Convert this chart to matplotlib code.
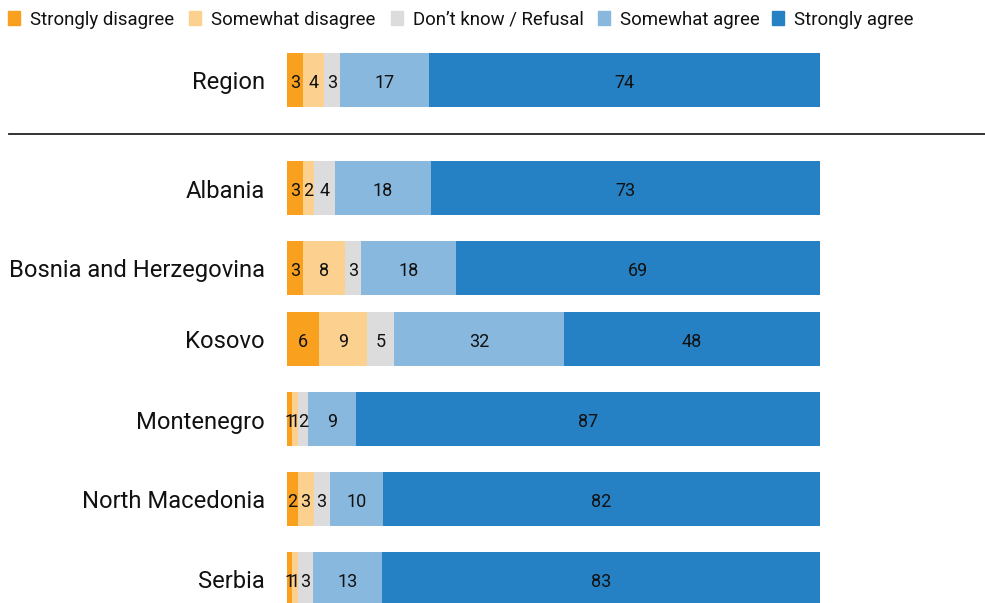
import matplotlib
matplotlib.use("Agg")
import matplotlib.pyplot as plt
from matplotlib.patches import Rectangle
from matplotlib.lines import Line2D
import numpy as np

plt.rcParams['font.family'] = ['Roboto', 'DejaVu Sans']

categories = ["Region", "Albania", "Bosnia and Herzegovina", "Kosovo",
              "Montenegro", "North Macedonia", "Serbia"]
series_names = ["Strongly disagree", "Somewhat disagree", "Don\u2019t know / Refusal",
                "Somewhat agree", "Strongly agree"]
strongly_disagree = [3, 3, 3, 6, 1, 2, 1]
somewhat_disagree = [4, 2, 8, 9, 1, 3, 1]
dont_know = [3, 4, 3, 5, 2, 3, 3]
somewhat_agree = [17, 18, 18, 32, 9, 10, 13]
strongly_agree = [74, 73, 69, 48, 87, 82, 83]

colors = ["#F9A11F", "#FCD08F", "#DCDCDC", "#88B8DE", "#2581C4"]

# layout (pixels)
W, H = 985, 603
y_centers = [80, 188, 268, 339, 419, 499, 579]
bar_h = 54
ax_left, ax_right = 287, 820

fig = plt.figure(figsize=(W / 100, H / 100), dpi=100)
ax = fig.add_axes([ax_left / W, 0, (ax_right - ax_left) / W, 1])
ax.set_xlim(0, 100)
ax.set_ylim(H, 0)
ax.axis('off')

data = np.array([strongly_disagree, somewhat_disagree, dont_know,
                 somewhat_agree, strongly_agree], dtype=float)
totals = data.sum(axis=0)
norm = data / totals * 100

left = np.zeros(len(categories))
for i in range(len(series_names)):
    ax.barh(y_centers, norm[i], left=left, height=bar_h, color=colors[i],
            edgecolor='none')
    for j, v in enumerate(data[i]):
        ax.text(left[j] + norm[i][j] / 2, y_centers[j] + 1, f"{int(v)}",
                ha='center', va='center_baseline', fontsize=13, color='#111111')
    left += norm[i]

# category labels
for j, cat in enumerate(categories):
    fig.text(265 / W, 1 - (y_centers[j] + 0.5) / H, cat, ha='right',
             va='center_baseline', fontsize=17.1, color='#111111')

# separator line
fig.add_artist(Line2D([9 / W, 985 / W], [1 - 134 / H, 1 - 134 / H],
                      color='#222222', lw=1.3, transform=fig.transFigure))

# legend
legend_text_x = [30, 211, 413, 620, 794]
for i, name in enumerate(series_names):
    tx = legend_text_x[i]
    fig.add_artist(Rectangle(((tx - 22) / W, 1 - 25 / H), 12 / W, 14 / H,
                             color=colors[i], transform=fig.transFigure))
    fig.text(tx / W, 1 - 18 / H, name, ha='left', va='center_baseline',
             fontsize=13.4, color='#111111')

fig.savefig("out.png", dpi=100)
